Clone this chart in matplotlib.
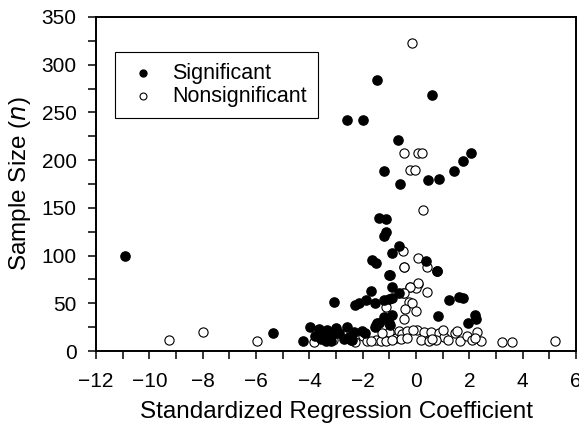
import matplotlib
matplotlib.use("Agg")
import matplotlib.pyplot as plt
from matplotlib.ticker import MultipleLocator

# coefficient / sample size pairs
sig_x = [-10.9, -5.35, -4.26, -3.99, -3.66, -3.33, -3.45, -3.39, -3.0, -3.14,
         -2.91, -3.2, -3.55, -3.08, -2.6, -2.51, -2.39, -2.32, -2.45, -2.04,
         -1.9, -2.29, -2.16, -1.89, -1.7, -1.54, -1.51, -1.39, -1.2, -0.91,
         -1.01, -1.2, -1.01, -0.89, -0.91, -1.01, -0.64, -1.66, -1.49, -0.99,
         -0.89, -0.64, -1.39, -1.14, -1.14, -1.2, 0.38, 0.79, 0.83, 1.23,
         1.6, 1.75, 2.2, 2.23, 1.96, 0.77, -1.45, 0.6, -2.6, -1.99,
         -0.68, -1.19, -0.59, 0.43, 0.85, 1.42, 1.76, 2.06, -1.45, -1.55,
         -0.98, -2.7, -3.8]
sig_n = [100, 18.5, 10.8, 24.8, 22.7, 22, 15, 10.8, 23.8, 16.8,
         19.2, 11, 13, 51.7, 25.5, 15, 11.5, 20.2, 12, 21,
         19, 48.2, 50, 54, 62.9, 50, 27, 29, 36, 37.7,
         29, 54, 54.8, 55.2, 67, 80, 61, 95.4, 92, 79.6,
         103, 110, 139, 138, 125, 120.5, 94.6, 84, 36.7, 54,
         57, 56, 37.7, 34, 29, 84, 283.7, 268, 242, 242,
         221.4, 189, 175, 179, 180, 189, 199, 208, 29, 25.5,
         27, 13, 16]

non_x = [-9.28, -7.98, -5.95, -3.82, -3.1, -2.01, -1.83, -1.49, -1.33, -1.12,
         -1.01, -1.29, -1.12, -0.76, -0.64, -0.52, -0.35, -0.58, -0.33, -0.48,
         -0.23, 0.08, 0.01, 0.42, -0.45, -0.26, -0.14, -0.42, 0.01, -0.45,
         0.05, 0.3, 0.55, 0.17, 0.48, 0.86, 1.04, 1.2, 0.73, 1.45,
         1.65, 1.9, 2.1, 2.3, 2.45, 2.2, 1.55, 3.23, 3.58, 5.2,
         -0.49, 0.08, 0.4, -0.44, 0.08, -0.24, -0.44, -0.14, -0.45, 0.08,
         0.23, -0.23, -0.04, 0.25, -1.7, -0.9, -0.1, 0.6, 1.0, -2.3]
non_n = [11.5, 19.6, 10.5, 9.8, 11.5, 15.7, 10.5, 11.5, 10.8, 10.8,
         20.2, 19.2, 46.5, 13.3, 21.3, 17.8, 21, 12.3, 13.3, 60.5,
         66.7, 70.2, 65.7, 62, 88, 51.7, 50, 43.7, 41.9, 33.2,
         22, 20, 20, 11.5, 10.8, 18.5, 15, 11.5, 11.5, 19,
         11, 16, 12, 20, 11, 14, 21, 9.8, 9.8, 10.3,
         105, 98, 87.7, 88, 71, 66.7, 61, 323, 208, 208,
         208, 190, 190, 148, 11, 12, 22, 13, 22, 10]

plt.rcParams['font.family'] = ['Liberation Sans', 'DejaVu Sans']

fig = plt.figure(figsize=(5.79, 4.25), dpi=100)
ax = fig.add_axes([0.166, 0.174, 0.829, 0.786])

ax.scatter(non_x, non_n, s=44, facecolors='white', edgecolors='black',
           linewidths=0.8, label='Nonsignificant', zorder=2)
ax.scatter(sig_x, sig_n, s=44, color='black', label='Significant', zorder=3)

ax.set_xlim(-12, 6)
ax.set_ylim(0, 350)
ax.xaxis.set_major_locator(MultipleLocator(2))
ax.xaxis.set_minor_locator(MultipleLocator(1))
ax.yaxis.set_major_locator(MultipleLocator(50))
ax.yaxis.set_minor_locator(MultipleLocator(25))
ax.tick_params(which='both', direction='out', length=6, width=1.1,
               labelsize=15, top=False, right=False)
ax.tick_params(axis='x', pad=9)
ax.tick_params(axis='y', pad=8)
for s in ax.spines.values():
    s.set_linewidth(1.4)

ax.set_xlabel('Standardized Regression Coefficient', fontsize=17.5, labelpad=7)
ax.set_ylabel('Sample Size ($n$)', fontsize=17.5, labelpad=6)

handles, labels = ax.get_legend_handles_labels()
leg = ax.legend(handles[::-1], labels[::-1], loc='upper left',
                bbox_to_anchor=(0.04, 0.895), borderaxespad=0, fontsize=15.5,
                fancybox=False, edgecolor='black', framealpha=1,
                markerscale=0.75, handlelength=1.6, handletextpad=0.55,
                borderpad=0.5, labelspacing=0.1)
leg.get_frame().set_linewidth(0.8)

fig.savefig('out.png', dpi=100)
